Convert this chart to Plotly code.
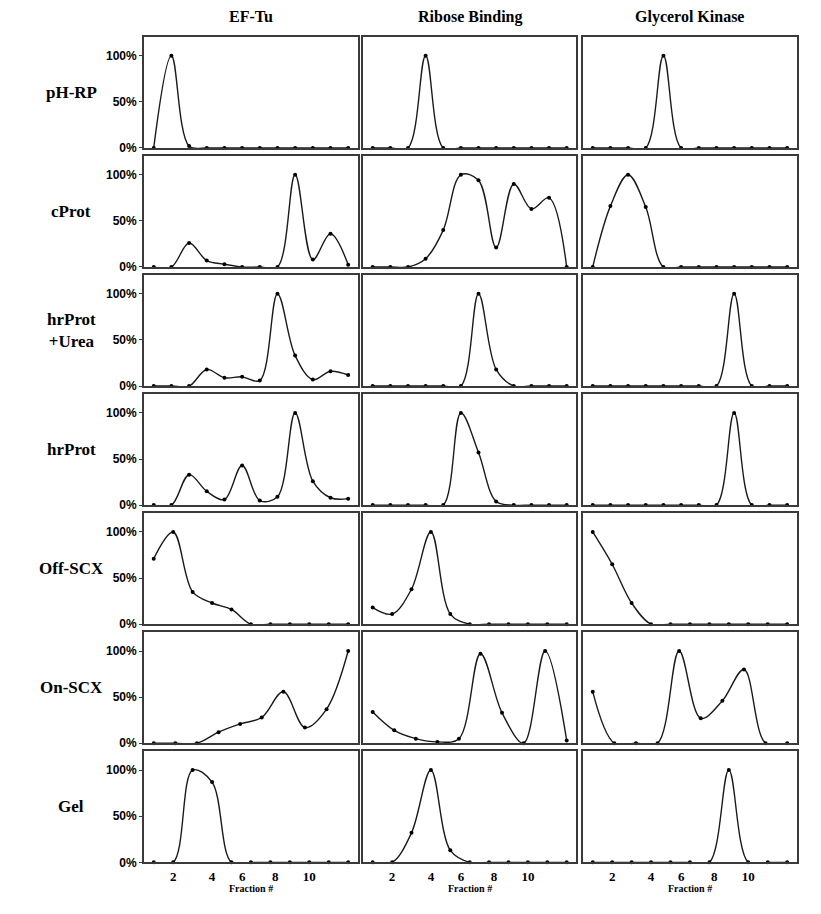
import plotly.graph_objects as go
from plotly.subplots import make_subplots

proteins = ["EF-Tu", "Ribose Binding", "Glycerol Kinase"]
methods = ["pH-RP", "cProt", "hrProt<br>+Urea", "hrProt", "Off-SCX", "On-SCX", "Gel"]

# relative abundance per fraction (0..1)
phrp_eftu = [0, 1.0, 0.02, 0, 0, 0, 0, 0, 0, 0, 0, 0]
phrp_ribose = [0, 0, 0, 1.0, 0, 0, 0, 0, 0, 0, 0, 0]
phrp_glycerol = [0, 0, 0, 0, 1.0, 0, 0, 0, 0, 0, 0, 0]

cprot_eftu = [0, 0, 0.26, 0.07, 0.03, 0, 0, 0, 1.0, 0.08, 0.36, 0.025]
cprot_ribose = [0, 0, 0, 0.09, 0.40, 1.0, 0.94, 0.21, 0.90, 0.63, 0.75, 0]
cprot_glycerol = [0, 0.66, 1.0, 0.65, 0, 0, 0, 0, 0, 0, 0, 0]

urea_eftu = [0, 0, 0, 0.18, 0.09, 0.10, 0.06, 1.0, 0.33, 0.07, 0.16, 0.12]
urea_ribose = [0, 0, 0, 0, 0, 0, 1.0, 0.18, 0, 0, 0, 0]
urea_glycerol = [0, 0, 0, 0, 0, 0, 0, 0, 1.0, 0, 0, 0]

hrprot_eftu = [0, 0, 0.33, 0.15, 0.06, 0.43, 0.05, 0.09, 1.0, 0.26, 0.08, 0.07]
hrprot_ribose = [0, 0, 0, 0, 0, 1.0, 0.57, 0.04, 0, 0, 0, 0]
hrprot_glycerol = [0, 0, 0, 0, 0, 0, 0, 0, 1.0, 0, 0, 0]

offscx_eftu = [0.71, 1.0, 0.35, 0.23, 0.16, 0, 0, 0, 0, 0, 0]
offscx_ribose = [0.18, 0.11, 0.38, 1.0, 0.11, 0, 0, 0, 0, 0, 0]
offscx_glycerol = [1.0, 0.65, 0.23, 0, 0, 0, 0, 0, 0, 0, 0]

onscx_eftu = [0, 0, 0, 0.12, 0.21, 0.28, 0.56, 0.17, 0.37, 1.0]
onscx_ribose = [0.34, 0.14, 0.05, 0.015, 0.05, 0.97, 0.33, 0, 1.0, 0.03]
onscx_glycerol = [0.56, 0, 0, 0, 1.0, 0.27, 0.46, 0.80, 0, 0]

gel_eftu = [0, 0, 1.0, 0.87, 0, 0, 0, 0, 0, 0, 0]
gel_ribose = [0, 0, 0.32, 1.0, 0.13, 0, 0, 0, 0, 0, 0]
gel_glycerol = [0, 0, 0, 0, 0, 0, 0, 1.0, 0, 0, 0]

gel_tick_pos = [2, 4, 5.55, 7.25, 9]
gel_tick_text = ["2", "4", "6", "8", "10"]

table = [
    [phrp_eftu, phrp_ribose, phrp_glycerol],
    [cprot_eftu, cprot_ribose, cprot_glycerol],
    [urea_eftu, urea_ribose, urea_glycerol],
    [hrprot_eftu, hrprot_ribose, hrprot_glycerol],
    [offscx_eftu, offscx_ribose, offscx_glycerol],
    [onscx_eftu, onscx_ribose, onscx_glycerol],
    [gel_eftu, gel_ribose, gel_glycerol],
]

# the page body adds an 8px margin, so the figure is drawn 8px in from the corner
OFF = 8
W, H = 821 - OFF, 914 - OFF
col_px = [(144, 357.5), (363, 576), (583, 796.5)]
row_top0, row_pitch, row_h = 37, 120, 112


def px_x(v):
    return (v - OFF) / W


def px_y(v):
    return 1 - (v - OFF) / H


fig = make_subplots(rows=7, cols=3)

sans_bold = dict(family="Liberation Sans", size=12, color="black", weight="bold")

for r, row in enumerate(table):
    top = row_top0 + r * row_pitch
    bottom = top + row_h
    for c, vals in enumerate(row):
        n = len(vals)
        fractions = list(range(1, n + 1))
        fig.add_trace(go.Scatter(
            x=fractions, y=vals, mode="lines+markers",
            line=dict(color="#1a1a1a", width=1.4, shape="spline", smoothing=1),
            marker=dict(color="black", size=4),
            cliponaxis=False, showlegend=False, hoverinfo="skip",
        ), row=r + 1, col=c + 1)
        span = n - 1
        xa = dict(
            domain=[px_x(col_px[c][0]), px_x(col_px[c][1])],
            range=[1 - 0.05 * span, n + 0.048 * span],
            showgrid=False, zeroline=False, showline=True, mirror=True,
            linecolor="#3a3a3a", linewidth=1.8, ticks="",
            showticklabels=False,
        )
        if r == len(table) - 1:
            xa.update(showticklabels=True, tickvals=gel_tick_pos,
                      ticktext=gel_tick_text, ticks="outside", ticklen=1,
                      tickcolor="rgba(0,0,0,0)",
                      tickfont=dict(family="Liberation Serif", size=13,
                                    color="black", weight="bold"))
        ya = dict(
            domain=[px_y(bottom), px_y(top)],
            range=[0, 1.205],
            showgrid=False, zeroline=False, showline=True, mirror=True,
            linecolor="#3a3a3a", linewidth=1.8,
            tickvals=[0, 0.5, 1.0], tickformat=".0%",
            ticks="outside" if c == 0 else "", ticklen=3, tickcolor="#3a3a3a",
            showticklabels=(c == 0), tickfont=sans_bold,
        )
        fig.update_xaxes(xa, row=r + 1, col=c + 1)
        fig.update_yaxes(ya, row=r + 1, col=c + 1)

annotations = []
for c, name in enumerate(proteins):
    cx = px_x((col_px[c][0] + col_px[c][1]) / 2)
    annotations.append(dict(text=name, x=cx, y=px_y(17), xref="paper", yref="paper",
                            xanchor="center", yanchor="middle", showarrow=False,
                            font=dict(family="Liberation Serif", size=16,
                                      color="black", weight="bold")))
    annotations.append(dict(text="Fraction #", x=cx, y=px_y(888), xref="paper",
                            yref="paper", xanchor="center", yanchor="top",
                            showarrow=False,
                            font=dict(family="Liberation Serif", size=10,
                                      color="black", weight="bold")))
for r, name in enumerate(methods):
    cy = row_top0 + r * row_pitch + row_h / 2
    annotations.append(dict(text=name, x=px_x(71), y=px_y(cy), xref="paper", yref="paper",
                            xanchor="center", yanchor="middle",
                            showarrow=False, align="center",
                            font=dict(family="Liberation Serif", size=17,
                                      color="black", weight="bold")))

fig.update_layout(
    width=W, height=H,
    margin=dict(l=0, r=0, t=0, b=0),
    paper_bgcolor="white", plot_bgcolor="white",
    annotations=annotations,
)

fig.write_html("out.html")
